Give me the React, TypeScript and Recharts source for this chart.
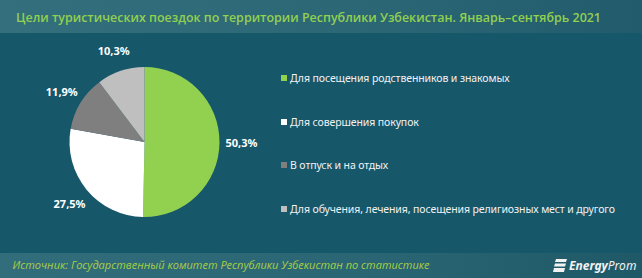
import { PieChart, Pie, Cell, Legend } from "recharts";

document.body.style.margin = "0";

const TITLE =
  "Цели туристических поездок по территории Республики Узбекистан. Январь–сентябрь 2021";
const SOURCE =
  "Источник: Государственный комитет Республики Узбекистан по статистике";

const categories = [
  "Для посещения родственников и знакомых",
  "Для совершения покупок",
  "В отпуск и на отдых",
  "Для обучения, лечения, посещения религиозных мест и другого",
];
const shares = [50.3, 27.5, 11.9, 10.3];
const colors = ["#92d050", "#ffffff", "#7f7f7f", "#bfbfbf"];

const data = categories.map((name, i) => ({ name, value: shares[i] }));

const BG = "#16576a";
const RAD = Math.PI / 180;

function SliceLabel({ cx, cy, midAngle, outerRadius, value }: any) {
  const r = outerRadius + 22;
  const x = cx + r * Math.cos(-midAngle * RAD);
  const y = cy + r * Math.sin(-midAngle * RAD);
  return (
    <text
      x={x}
      y={y}
      fill="#ffffff"
      fontSize={11}
      fontWeight={700}
      fontFamily="'Noto Sans', sans-serif"
      textAnchor="middle"
      dominantBaseline="central"
    >
      {value.toFixed(1).replace(".", ",")}%
    </text>
  );
}

function LegendList() {
  return (
    <div>
      {data.map((d, i) => (
        <div
          key={d.name}
          style={{
            display: "flex",
            alignItems: "center",
            height: 43.5,
            color: "#f2f2f2",
            fontSize: 10.5,
            letterSpacing: -0.1,
            fontFamily: "'Noto Sans', sans-serif",
          }}
        >
          <span
            style={{
              width: 6,
              height: 6,
              background: colors[i],
              marginRight: 3,
              display: "inline-block",
              flex: "none",
            }}
          />
          {d.name}
        </div>
      ))}
    </div>
  );
}

export default function App() {
  return (
    <div
      style={{
        position: "relative",
        width: 642,
        height: 278,
        background: BG,
        overflow: "hidden",
        fontFamily: "'Noto Sans', sans-serif",
      }}
    >
      <div
        style={{
          position: "absolute",
          left: 0,
          top: 0,
          width: 642,
          height: 33,
          background: "linear-gradient(90deg, #346f7d 0%, #2c6776 55%, #225c6c 100%)",
        }}
      >
        <svg width={642} height={33} style={{ position: "absolute", left: 0, top: 0 }}>
          <text
            x={16}
            y={21.5}
            fill="#92d050"
            fontSize={13}
            fontWeight={600}
            fontFamily="'Open Sans', sans-serif"
            textLength={585}
            lengthAdjust="spacingAndGlyphs"
          >
            {TITLE}
          </text>
        </svg>
      </div>

      <div style={{ position: "absolute", left: 0, top: 0 }}>
        <PieChart width={642} height={278}>
          <Pie
            data={data}
            dataKey="value"
            nameKey="name"
            cx={139.5}
            cy={137}
            outerRadius={75}
            startAngle={90}
            endAngle={-270}
            stroke="none"
            label={<SliceLabel />}
            labelLine={false}
            isAnimationActive={false}
          >
            {data.map((d, i) => (
              <Cell key={d.name} fill={colors[i]} />
            ))}
          </Pie>
          <Legend
            layout="vertical"
            content={<LegendList />}
            wrapperStyle={{ position: "absolute", left: 281, top: 56.5, width: 360 }}
          />
        </PieChart>
      </div>

      <div
        style={{
          position: "absolute",
          left: 0,
          top: 253,
          width: 642,
          height: 25,
          background: "linear-gradient(90deg, #326d7b 0%, #2a6574 60%, #1f5968 100%)",
        }}
      >
        <svg width={642} height={25} style={{ position: "absolute", left: 0, top: 0 }}>
          <text
            x={12.5}
            y={16}
            fill="#a8cf45"
            fontSize={11.5}
            fontStyle="italic"
            fontFamily="'Open Sans', sans-serif"
            textLength={417}
            lengthAdjust="spacingAndGlyphs"
          >
            {SOURCE}
          </text>
          <g fill="#f2f2f2">
            <polygon points="556,6 567,6 566,9 555,9" />
            <polygon points="555,10.5 566,10.5 565,13.5 554,13.5" />
            <polygon points="554,15 565,15 564,19 553,19" />
          </g>
          <text x={569} y={17} fill="#f2f2f2" fontSize={12} fontStyle="italic" fontFamily="'Noto Sans', sans-serif">
            <tspan fontWeight={700}>Energy</tspan>
            <tspan fontWeight={400}>Prom</tspan>
          </text>
        </svg>
      </div>
    </div>
  );
}
